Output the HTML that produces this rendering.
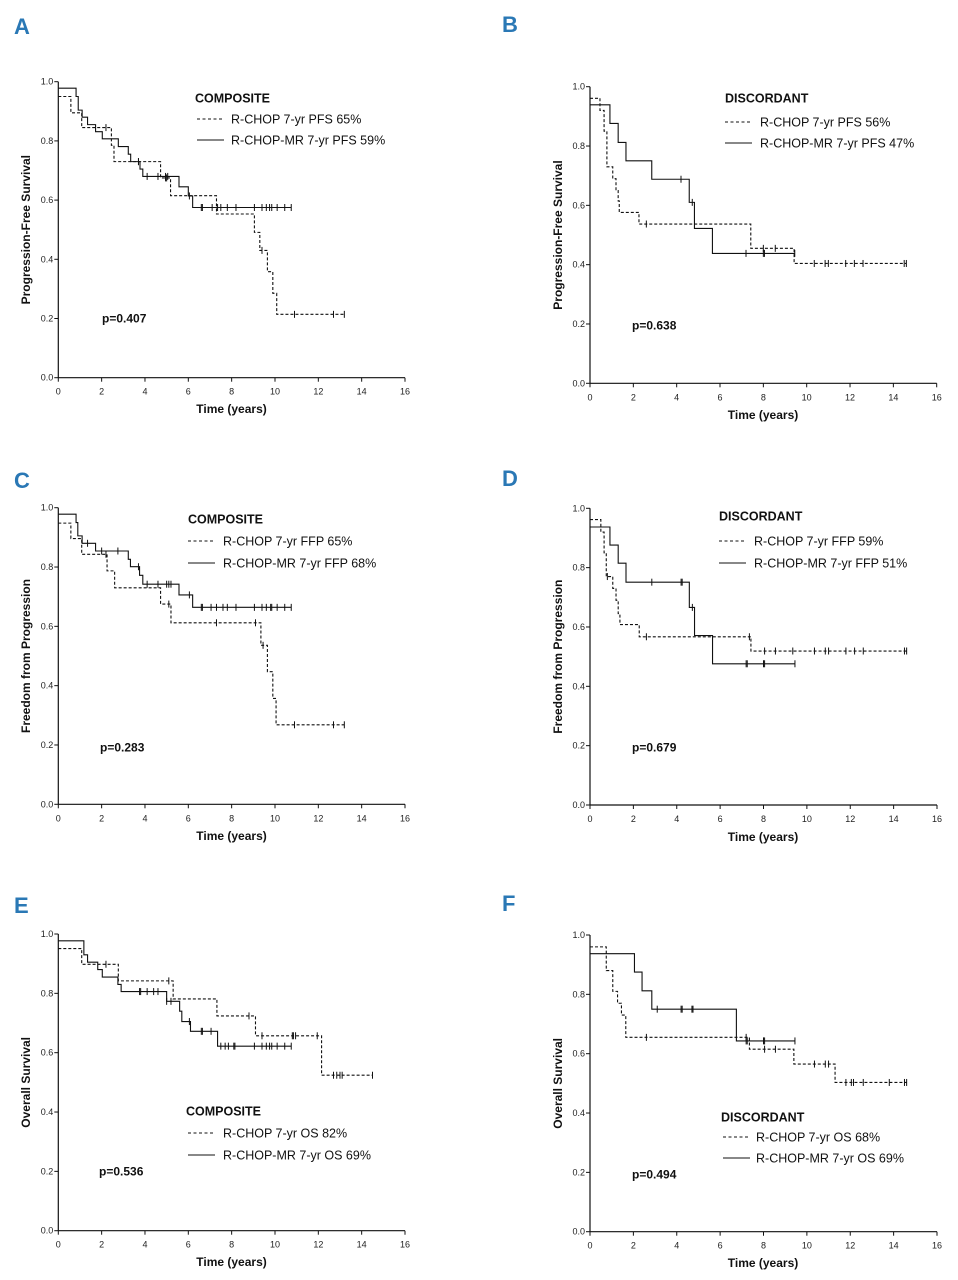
<!DOCTYPE html>
<html><head><meta charset="utf-8"><style>
html,body{margin:0;padding:0;background:#fff;}
svg{display:block;font-family:"Liberation Sans",Arial,sans-serif;}
.tk{font-size:9px;fill:#222;}
.ax{font-size:12px;font-weight:bold;fill:#111;}
.lg{font-size:12.5px;fill:#111;}
.lt{font-size:12.5px;font-weight:bold;fill:#111;}
.pl{font-size:12px;font-weight:bold;fill:#111;}
.let{font-size:22px;font-weight:bold;fill:#2a78b5;font-family:"Liberation Sans Narrow","Liberation Sans",sans-serif;}
</style></head><body>
<svg id="fig" width="958" height="1280" viewBox="0 0 958 1280"></svg>
<script>
// ---- Panel A: PFS composite ----
const aDashT=[0,0.58,1.08,2.45,2.57,4.72,5.18,7.3,9.05,9.3,9.65,9.9,10.08];
const aDashS=[0.95,0.895,0.845,0.785,0.73,0.675,0.615,0.553,0.491,0.43,0.358,0.285,0.214];
const aDashC=[2.2,3.7,4.95,5.0,9.4,10.9,12.7,13.2];
const aSolT=[0,0.82,0.92,1.1,1.35,1.72,2.03,2.77,3.23,3.34,3.77,3.9,5.57,6.0,6.2];
const aSolS=[0.978,0.95,0.904,0.88,0.855,0.831,0.807,0.781,0.755,0.73,0.705,0.68,0.645,0.614,0.575];
const aSolC=[3.7,4.1,4.6,4.95,5.05,6.05,6.6,6.65,7.1,7.35,7.5,7.8,8.2,9.05,9.4,9.6,9.75,9.85,10.1,10.45,10.75];
// ---- Panel B: PFS discordant ----
const bDashT=[0,0.46,0.65,0.78,1.05,1.2,1.3,1.35,2.26,7.42,9.42];
const bDashS=[0.961,0.92,0.85,0.73,0.69,0.65,0.615,0.576,0.537,0.455,0.404];
const bDashC=[2.6,8.0,8.55,10.35,10.85,11.0,11.8,12.2,12.6,14.5,14.6];
const bSolT=[0,0.92,1.3,1.66,2.85,4.58,4.82,5.65];
const bSolS=[0.939,0.876,0.812,0.75,0.688,0.61,0.522,0.438];
const bSolC=[4.2,4.72,7.2,8.0,8.05,9.45];
// ---- Panel C: FFP composite ----
const cDashT=[0,0.58,1.08,2.25,2.6,4.72,5.2,9.35,9.65,9.9,10.05];
const cDashS=[0.948,0.896,0.843,0.787,0.73,0.675,0.612,0.536,0.447,0.357,0.268];
const cDashC=[2.2,5.1,7.3,9.1,9.45,10.9,12.7,13.2];
const cSolT=[0,0.82,0.9,1.1,1.72,3.23,3.33,3.75,3.9,5.57,6.2];
const cSolS=[0.978,0.95,0.905,0.88,0.854,0.826,0.801,0.772,0.742,0.706,0.664];
const cSolC=[1.35,2.0,2.75,3.7,4.1,4.6,5.0,5.1,5.2,6.05,6.6,6.65,7.05,7.3,7.6,7.8,8.2,9.05,9.4,9.6,9.8,9.85,10.1,10.45,10.75];
// ---- Panel D: FFP discordant ----
const dDashT=[0,0.5,0.65,0.75,1.05,1.2,1.3,1.38,2.27,7.42];
const dDashS=[0.962,0.92,0.85,0.77,0.73,0.69,0.645,0.608,0.567,0.519];
const dDashC=[0.8,2.6,7.35,8.05,8.55,9.35,10.35,10.85,11.0,11.8,12.2,12.6,14.5,14.6];
const dSolT=[0,0.92,1.3,1.66,4.58,4.82,5.65];
const dSolS=[0.937,0.876,0.815,0.751,0.666,0.571,0.476];
const dSolC=[2.85,4.2,4.25,4.72,7.2,7.25,8.0,8.05,9.45];
// ---- Panel E: OS composite ----
const eDashT=[0,1.08,2.77,5.3,7.32,9.1,12.15];
const eDashS=[0.951,0.898,0.842,0.781,0.724,0.657,0.524];
const eDashC=[2.2,5.1,8.8,9.4,10.8,10.85,10.95,11.95,12.7,12.85,13.0,13.1,14.5];
const eSolT=[0,1.18,1.35,1.82,2.03,2.75,2.9,5.0,5.6,5.7,6.1,7.35];
const eSolS=[0.977,0.93,0.905,0.88,0.855,0.83,0.806,0.773,0.74,0.705,0.672,0.622];
const eSolC=[3.75,3.8,4.1,4.4,4.6,5.0,5.2,6.05,6.6,6.65,7.05,7.5,7.7,7.85,8.1,8.15,9.05,9.4,9.6,9.75,9.85,10.1,10.45,10.75];
// ---- Panel F: OS discordant ----
const fDashT=[0,0.75,1.05,1.27,1.45,1.65,7.35,9.4,11.3];
const fDashS=[0.96,0.88,0.81,0.77,0.73,0.655,0.615,0.565,0.503];
const fDashC=[2.6,7.2,8.05,8.55,10.35,10.85,11.0,11.8,12.05,12.15,12.6,13.8,14.5,14.6];
const fSolT=[0,2.05,2.4,2.85,6.75];
const fSolS=[0.937,0.875,0.812,0.75,0.643];
const fSolC=[3.1,4.2,4.25,4.7,4.75,7.2,7.25,8.0,8.05,9.45];
// ---- axis ticks ----
const xTicks=[0,2,4,6,8,10,12,14,16];
const yTicks=[0,0.2,0.4,0.6,0.8,1.0];
const yTickLabels=["0.0","0.2","0.4","0.6","0.8","1.0"];

const NS="http://www.w3.org/2000/svg";
const svg=document.getElementById('fig');
function mk(tag,attrs,parent,text){const e=document.createElementNS(NS,tag);for(const k in attrs)e.setAttribute(k,attrs[k]);if(text!==undefined)e.textContent=text;(parent||svg).appendChild(e);return e;}

const panels=[
 {id:'a',L:'A',lx:14,ly:34,x0:58.3,x1:405,y1:81.7,y0:377.7,ylab:'Progression-Free Survival',yl:26,title:'COMPOSITE',tx:195,ty:98,dy1:119,dy2:140,dxa:197,tX:231,px:102,py:318,xly:409,xlc:231.5,
  l1:'R-CHOP 7-yr PFS 65%',l2:'R-CHOP-MR 7-yr PFS 59%',p:'p=0.407',dT:aDashT,dS:aDashS,dC:aDashC,sT:aSolT,sS:aSolS,sC:aSolC},
 {id:'b',L:'B',lx:502,ly:32,x0:590,x1:936.7,y1:86.7,y0:383.3,ylab:'Progression-Free Survival',yl:558,title:'DISCORDANT',tx:725,ty:98,dy1:122,dy2:143,dxa:725,tX:760,px:632,py:325,xly:415,xlc:763,
  l1:'R-CHOP 7-yr PFS 56%',l2:'R-CHOP-MR 7-yr PFS 47%',p:'p=0.638',dT:bDashT,dS:bDashS,dC:bDashC,sT:bSolT,sS:bSolS,sC:bSolC},
 {id:'c',L:'C',lx:14,ly:488,x0:58.3,x1:405,y1:507.7,y0:804.3,ylab:'Freedom from Progression',yl:26,title:'COMPOSITE',tx:188,ty:519,dy1:541,dy2:563,dxa:188,tX:223,px:100,py:747,xly:836,xlc:231.5,
  l1:'R-CHOP 7-yr FFP 65%',l2:'R-CHOP-MR 7-yr FFP 68%',p:'p=0.283',dT:cDashT,dS:cDashS,dC:cDashC,sT:cSolT,sS:cSolS,sC:cSolC},
 {id:'d',L:'D',lx:502,ly:486,x0:590,x1:937,y1:508.3,y0:805,ylab:'Freedom from Progression',yl:558,title:'DISCORDANT',tx:719,ty:516,dy1:541,dy2:563,dxa:719,tX:754,px:632,py:747,xly:837,xlc:763,
  l1:'R-CHOP 7-yr FFP 59%',l2:'R-CHOP-MR 7-yr FFP 51%',p:'p=0.679',dT:dDashT,dS:dDashS,dC:dDashC,sT:dSolT,sS:dSolS,sC:dSolC},
 {id:'e',L:'E',lx:14,ly:913,x0:58.3,x1:405,y1:934,y0:1230.7,ylab:'Overall Survival',yl:26,title:'COMPOSITE',tx:186,ty:1111,dy1:1133,dy2:1155,dxa:188,tX:223,px:99,py:1171,xly:1262,xlc:231.5,
  l1:'R-CHOP 7-yr OS 82%',l2:'R-CHOP-MR 7-yr OS 69%',p:'p=0.536',dT:eDashT,dS:eDashS,dC:eDashC,sT:eSolT,sS:eSolS,sC:eSolC},
 {id:'f',L:'F',lx:502,ly:911,x0:590,x1:937,y1:935,y0:1231.7,ylab:'Overall Survival',yl:558,title:'DISCORDANT',tx:721,ty:1117,dy1:1137,dy2:1158,dxa:723,tX:756,px:632,py:1174,xly:1263,xlc:763,
  l1:'R-CHOP 7-yr OS 68%',l2:'R-CHOP-MR 7-yr OS 69%',p:'p=0.494',dT:fDashT,dS:fDashS,dC:fDashC,sT:fSolT,sS:fSolS,sC:fSolC}
];

function survAt(T,S,t){let s=S[0];for(let i=0;i<T.length;i++){if(T[i]<=t)s=S[i];}return s;}

panels.forEach(P=>{
  const g=mk('g',{});
  
  
  const X=t=>P.x0+(P.x1-P.x0)*t/16;
  const Y=v=>P.y0-(P.y0-P.y1)*v;
  const let_=mk('text',{x:P.lx,y:P.ly,class:'let'},g,P.L);
  
  
  // axes
  const ya=mk('line',{x1:P.x0,y1:P.y1,x2:P.x0,y2:P.y0,stroke:'#111','stroke-width':1.2},g);
  
  
  const xa=mk('line',{x1:P.x0,y1:P.y0,x2:P.x1,y2:P.y0,stroke:'#111','stroke-width':1.2},g);
  
  
  yTicks.forEach((v,i)=>{
    mk('line',{x1:P.x0-4,y1:Y(v),x2:P.x0,y2:Y(v),stroke:'#111','stroke-width':1},g);
    const t=mk('text',{x:P.x0-5,y:Y(v)+3,class:'tk','text-anchor':'end'},g,yTickLabels[i]);
    
    
  });
  xTicks.forEach(v=>{
    mk('line',{x1:X(v),y1:P.y0,x2:X(v),y2:P.y0+4,stroke:'#111','stroke-width':1},g);
    const t=mk('text',{x:X(v),y:P.y0+17,class:'tk','text-anchor':'middle'},g,String(v));
    
    
  });
  const xl=mk('text',{x:P.xlc,y:P.xly+4,class:'ax','text-anchor':'middle'},g,'Time (years)');
  
  
  const yc=(P.y0+P.y1)/2;
  const yl=mk('text',{x:P.yl+4,y:yc,class:'ax','text-anchor':'middle',transform:'rotate(-90 '+(P.yl+4)+' '+yc+')'},g,P.ylab);
  
  
  // curves
  function curve(T,S,C,dashed,name){
    const end=Math.max(C.length?C[C.length-1]:0,T[T.length-1]);
    let d='M'+X(T[0])+','+Y(S[0]);
    for(let i=1;i<T.length;i++){d+=' H'+X(T[i])+' V'+Y(S[i]);}
    d+=' H'+X(end);
    const p=mk('path',{d:d,fill:'none',stroke:'#111','stroke-width':1.1,'stroke-dasharray':dashed?'3,2':'none'},g);
    
    
    C.forEach(c=>{
      const s=survAt(T,S,c);
      const m=mk('line',{x1:X(c),y1:Y(s)-3.5,x2:X(c),y2:Y(s)+3.5,stroke:'#111','stroke-width':1},g);
      
      
    });
  }
  curve(P.dT,P.dS,P.dC,true,'r-chop');
  curve(P.sT,P.sS,P.sC,false,'r-chop-mr');
  // legend
  const lt=mk('text',{x:P.tx,y:P.ty+4.5,class:'lt'},g,P.title);
  
  
  const d1=mk('line',{x1:P.dxa,y1:P.dy1,x2:P.dxa+27,y2:P.dy1,stroke:'#111','stroke-width':1.1,'stroke-dasharray':'3,2.5'},g);
  
  
  const t1=mk('text',{x:P.tX,y:P.dy1+4.5,class:'lg'},g,P.l1);
  
  
  const d2=mk('line',{x1:P.dxa,y1:P.dy2,x2:P.dxa+27,y2:P.dy2,stroke:'#111','stroke-width':1.1},g);
  
  
  const t2=mk('text',{x:P.tX,y:P.dy2+4.5,class:'lg'},g,P.l2);
  
  
  const pv=mk('text',{x:P.px,y:P.py+4.5,class:'pl'},g,P.p);
  
  
});
</script>
</body></html>
